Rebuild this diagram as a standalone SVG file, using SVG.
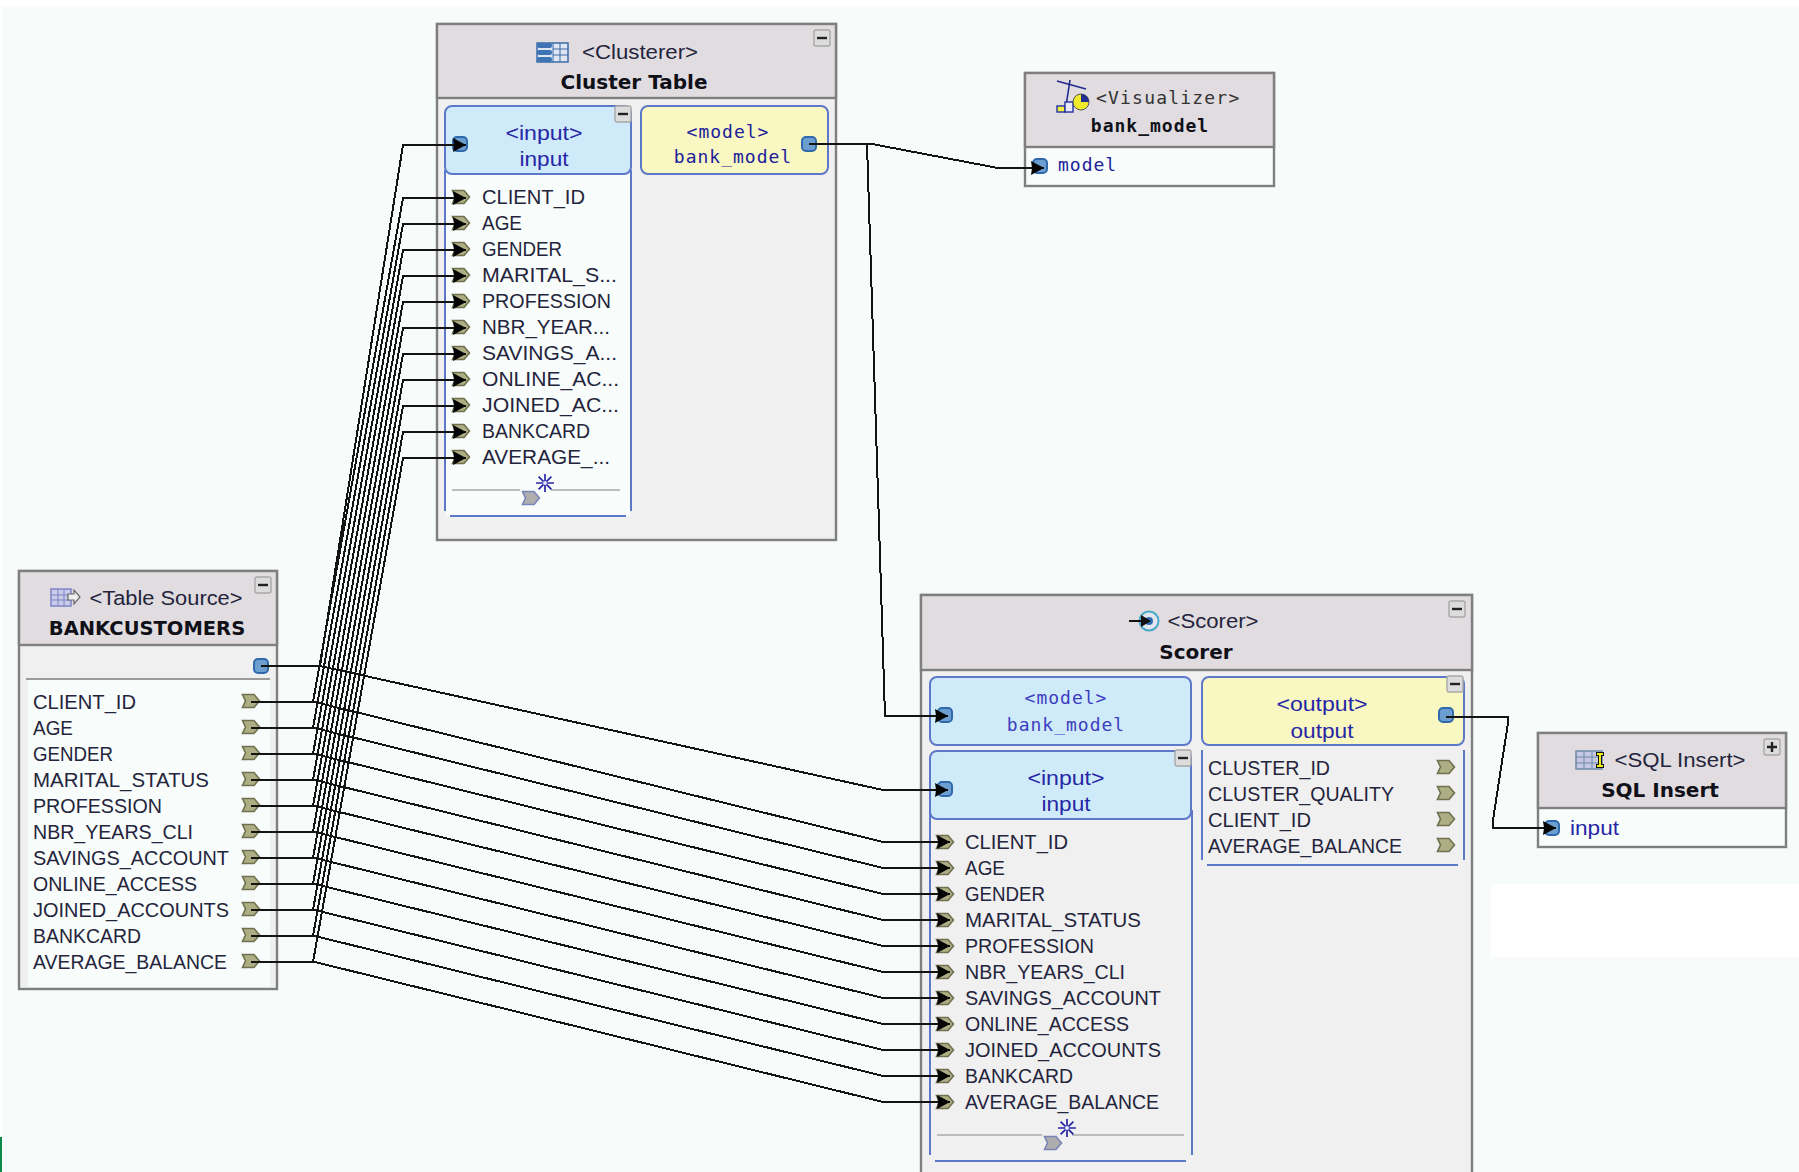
<svg xmlns="http://www.w3.org/2000/svg" xmlns:xlink="http://www.w3.org/1999/xlink" width="1799" height="1172" viewBox="0 0 1799 1172">
<style>
.frame{fill:#f0f0f0;stroke:#7f7f7f;stroke-width:2.4}
.head{fill:#e0dce0;stroke:#7f7f7f;stroke-width:2.4}
.pale{fill:#f8fdfb;stroke:none}
.inbox{fill:#cfeaf9;stroke:#5d78c8;stroke-width:2}
.outbox{fill:#f9f8c2;stroke:#5d78c8;stroke-width:2}
.edge{stroke:#5d78c8;stroke-width:2;fill:none}
.sep{stroke:#bdbdbd;stroke-width:2}
.t{font-family:"Liberation Sans",Arial,sans-serif;font-size:20px;fill:#24243c}
.c{text-anchor:middle}
.b{font-family:"DejaVu Sans",sans-serif;font-weight:700;font-size:20px;fill:#101018;text-anchor:middle}
.blue{fill:#2626a6}
.m{font-family:"DejaVu Sans Mono",monospace;font-size:18px;letter-spacing:1px;fill:#20209a}
.lm{fill:#3d3dc0}
.wire{fill:none;stroke:#141414;stroke-width:2;stroke-linejoin:miter;shape-rendering:crispEdges}
.arrow{marker-end:url(#head)}
.btn{fill:#dcdcdc;stroke:#a8a8a8;stroke-width:1.4}
.sym{stroke:#222;stroke-width:2.4}
</style>
<defs>
<marker id="head" markerUnits="userSpaceOnUse" markerWidth="15" markerHeight="16" refX="14" refY="8" orient="auto">
<path d="M1 1L14 8L1 15L2 8Z" fill="#050505"/>
</marker>
<g id="tag"><path d="M-8.5-6.5H3L8.5 0L3 6.5H-8.5L-5.5 0Z" fill="#aeae84" stroke="#70704f" stroke-width="1.6"/></g>
<g id="ghost"><path d="M-8.5-6.5H3L8.5 0L3 6.5H-8.5L-5.5 0Z" fill="#aeaeae" stroke="#7b86b8" stroke-width="1.6"/></g>
<g id="port"><rect x="-7" y="-7" width="14" height="14" rx="4" fill="#6c9fd0" stroke="#2f69ac" stroke-width="2"/></g>
<g id="minus"><rect class="btn" x="-8" y="-8" width="16" height="16" rx="2"/><path class="sym" d="M-5 0H5"/></g>
<g id="star"><path d="M-9 0H9M0-9V9M-6.400-6.400L6.400 6.400M-6.400 6.400L6.400-6.400" stroke="#2626a6" stroke-width="1.700"/><circle r="2" fill="#e8e8f8"/></g>
</defs>

<rect width="1799" height="1172" fill="#f7fcfa"/>
<rect width="1799" height="6" fill="#ffffff"/>
<rect width="2" height="1172" fill="#ffffff"/>
<rect x="0" y="1137" width="2" height="35" fill="#0c8a4c"/>
<rect x="1491" y="884" width="308" height="73" fill="#ffffff"/>

<g id="node-bankcustomers">
<rect class="frame" x="19" y="571" width="258" height="418"/>
<rect class="head" x="19" y="571" width="258" height="74"/>
<rect class="pale" x="28" y="680" width="242" height="307"/>
<path d="M26 679H270" stroke="#7f7f7f" stroke-width="1.600"/>
<use xlink:href="#minus" x="263" y="585"/>
<g id="icon-source"><rect x="51" y="589" width="20" height="17" fill="#c9cbe8" stroke="#7d83c8" stroke-width="1.500"/><path d="M51 595H71M51 600H71M58 589V606M64 589V606" stroke="#7d83c8"/><path d="M68 594H74V590L80 597L74 604V600H68Z" fill="#eef0f0" stroke="#666" stroke-width="1.200"/></g>
<text class="t c" x="166" y="605" textLength="153" lengthAdjust="spacingAndGlyphs">&lt;Table Source&gt;</text>
<text class="b" x="147" y="635" style="font-size:19.500px">BANKCUSTOMERS</text>
<use xlink:href="#port" x="261" y="666"/>
<g id="source-columns">
<text class="t" x="33" y="709" textLength="103" lengthAdjust="spacingAndGlyphs">CLIENT_ID</text><use xlink:href="#tag" x="251" y="701"/>
<text class="t" x="33" y="735" textLength="40" lengthAdjust="spacingAndGlyphs">AGE</text><use xlink:href="#tag" x="251" y="727"/>
<text class="t" x="33" y="761" textLength="80" lengthAdjust="spacingAndGlyphs">GENDER</text><use xlink:href="#tag" x="251" y="753"/>
<text class="t" x="33" y="787" textLength="176" lengthAdjust="spacingAndGlyphs">MARITAL_STATUS</text><use xlink:href="#tag" x="251" y="779"/>
<text class="t" x="33" y="813" textLength="129" lengthAdjust="spacingAndGlyphs">PROFESSION</text><use xlink:href="#tag" x="251" y="805"/>
<text class="t" x="33" y="839" textLength="160" lengthAdjust="spacingAndGlyphs">NBR_YEARS_CLI</text><use xlink:href="#tag" x="251" y="831"/>
<text class="t" x="33" y="865" textLength="196" lengthAdjust="spacingAndGlyphs">SAVINGS_ACCOUNT</text><use xlink:href="#tag" x="251" y="857"/>
<text class="t" x="33" y="891" textLength="164" lengthAdjust="spacingAndGlyphs">ONLINE_ACCESS</text><use xlink:href="#tag" x="251" y="883"/>
<text class="t" x="33" y="917" textLength="196" lengthAdjust="spacingAndGlyphs">JOINED_ACCOUNTS</text><use xlink:href="#tag" x="251" y="909"/>
<text class="t" x="33" y="943" textLength="108" lengthAdjust="spacingAndGlyphs">BANKCARD</text><use xlink:href="#tag" x="251" y="935"/>
<text class="t" x="33" y="969" textLength="194" lengthAdjust="spacingAndGlyphs">AVERAGE_BALANCE</text><use xlink:href="#tag" x="251" y="961"/>
</g>
</g>

<g id="node-cluster-table">
<rect class="frame" x="437" y="24" width="399" height="516"/>
<rect class="head" x="437" y="24" width="399" height="74"/>
<use xlink:href="#minus" x="822" y="38"/>
<g id="icon-clusterer"><rect x="537" y="43" width="31" height="19" fill="#dfe6f2" stroke="#3a6ba8" stroke-width="1.500"/><path d="M553 43V62M560 43V62M553 49H568M553 55H568" stroke="#3a6ba8"/><rect x="537" y="43" width="15" height="5" rx="2" fill="#3f74b4"/><rect x="537" y="50" width="15" height="5" rx="2" fill="#3f74b4"/><rect x="537" y="57" width="15" height="5" rx="2" fill="#3f74b4"/></g>
<text class="t c" x="640" y="59" textLength="116" lengthAdjust="spacingAndGlyphs">&lt;Clusterer&gt;</text>
<text class="b" x="634" y="89">Cluster Table</text>
<g id="cluster-input">
<rect class="pale" x="446" y="170" width="184" height="346"/>
<path class="edge" d="M445 170V511M631 170V511M450 516H626"/>
<rect class="inbox" x="445" y="106" width="186" height="68" rx="7"/>
<use xlink:href="#minus" x="623" y="114"/>
<use xlink:href="#port" x="460" y="144"/>
<text class="t c blue" x="544" y="140" textLength="77" lengthAdjust="spacingAndGlyphs">&lt;input&gt;</text>
<text class="t c blue" x="544" y="166" textLength="49" lengthAdjust="spacingAndGlyphs">input</text>
<text class="t" x="482" y="204" textLength="103" lengthAdjust="spacingAndGlyphs">CLIENT_ID</text><use xlink:href="#tag" x="461" y="197"/>
<text class="t" x="482" y="230" textLength="40" lengthAdjust="spacingAndGlyphs">AGE</text><use xlink:href="#tag" x="461" y="223"/>
<text class="t" x="482" y="256" textLength="80" lengthAdjust="spacingAndGlyphs">GENDER</text><use xlink:href="#tag" x="461" y="249"/>
<text class="t" x="482" y="282" textLength="135" lengthAdjust="spacingAndGlyphs">MARITAL_S...</text><use xlink:href="#tag" x="461" y="275"/>
<text class="t" x="482" y="308" textLength="129" lengthAdjust="spacingAndGlyphs">PROFESSION</text><use xlink:href="#tag" x="461" y="301"/>
<text class="t" x="482" y="334" textLength="128" lengthAdjust="spacingAndGlyphs">NBR_YEAR...</text><use xlink:href="#tag" x="461" y="327"/>
<text class="t" x="482" y="360" textLength="135" lengthAdjust="spacingAndGlyphs">SAVINGS_A...</text><use xlink:href="#tag" x="461" y="353"/>
<text class="t" x="482" y="386" textLength="137" lengthAdjust="spacingAndGlyphs">ONLINE_AC...</text><use xlink:href="#tag" x="461" y="379"/>
<text class="t" x="482" y="412" textLength="137" lengthAdjust="spacingAndGlyphs">JOINED_AC...</text><use xlink:href="#tag" x="461" y="405"/>
<text class="t" x="482" y="438" textLength="108" lengthAdjust="spacingAndGlyphs">BANKCARD</text><use xlink:href="#tag" x="461" y="431"/>
<text class="t" x="482" y="464" textLength="128" lengthAdjust="spacingAndGlyphs">AVERAGE_...</text><use xlink:href="#tag" x="461" y="457"/>
<path class="sep" d="M452 490H520M551 490H620"/>
<use xlink:href="#ghost" x="531" y="498"/>
<use xlink:href="#star" x="545" y="483"/>
</g>
<g id="cluster-model">
<rect class="outbox" x="641" y="106" width="187" height="68" rx="7"/>
<use xlink:href="#port" x="809" y="144"/>
<text class="m c" x="728" y="138">&lt;model&gt;</text>
<text class="m c" x="733" y="163">bank_model</text>
</g>
</g>

<g id="node-visualizer">
<rect class="frame" x="1025" y="73" width="249" height="113" style="fill:#f8fdfb"/>
<rect class="head" x="1025" y="73" width="249" height="74"/>
<g id="icon-visualizer"><path d="M1057 81L1086 89M1070 80L1066 106" stroke="#222a90" stroke-width="1.600"/><rect x="1057" y="106" width="8" height="6" fill="#f3ee40" stroke="#2230a0" stroke-width="1.400"/><rect x="1065" y="102" width="8" height="10" fill="#e8e8f8" stroke="#2230a0" stroke-width="1.400"/><circle cx="1081" cy="102" r="8" fill="#f0ea2c" stroke="#555" stroke-width="1"/><path d="M1081 102V94A8 8 0 0 1 1089 102Z" fill="#20308c"/></g>
<text class="m" x="1096" y="104" style="fill:#333;font-size:18px;letter-spacing:1.200px">&lt;Visualizer&gt;</text>
<text class="m c" x="1150" y="132" style="fill:#101018;font-weight:700">bank_model</text>
<use xlink:href="#port" x="1040" y="166"/>
<text class="m" x="1058" y="171">model</text>
</g>

<g id="node-scorer">
<path class="frame" d="M921 1174V595H1472V1174"/>
<rect class="head" x="921" y="595" width="551" height="75"/>
<use xlink:href="#minus" x="1457" y="609"/>
<g id="icon-scorer"><circle cx="1149" cy="621" r="9.500" fill="#e2e6ee" stroke="#49a8c8" stroke-width="2"/><circle cx="1149" cy="621" r="4" fill="#2f6fb0"/><path d="M1129 621H1146" stroke="#111" stroke-width="2"/><path d="M1141 615L1151 621L1141 627Z" fill="#111"/></g>
<text class="t c" x="1213" y="628" textLength="91" lengthAdjust="spacingAndGlyphs">&lt;Scorer&gt;</text>
<text class="b" x="1196" y="659">Scorer</text>
<g id="scorer-model">
<rect class="inbox" x="930" y="677" width="261" height="68" rx="7"/>
<use xlink:href="#port" x="945" y="715"/>
<text class="m c lm" x="1066" y="704">&lt;model&gt;</text>
<text class="m c lm" x="1066" y="731">bank_model</text>
</g>
<g id="scorer-input">
<path class="edge" d="M930 810V1155M1192 810V1155M935 1161H1186"/>
<rect class="inbox" x="930" y="751" width="261" height="68" rx="7"/>
<use xlink:href="#minus" x="1183" y="758"/>
<use xlink:href="#port" x="945" y="789"/>
<text class="t c blue" x="1066" y="785" textLength="77" lengthAdjust="spacingAndGlyphs">&lt;input&gt;</text>
<text class="t c blue" x="1066" y="811" textLength="49" lengthAdjust="spacingAndGlyphs">input</text>
<text class="t" x="965" y="849" textLength="103" lengthAdjust="spacingAndGlyphs">CLIENT_ID</text><use xlink:href="#tag" x="945" y="842"/>
<text class="t" x="965" y="875" textLength="40" lengthAdjust="spacingAndGlyphs">AGE</text><use xlink:href="#tag" x="945" y="868"/>
<text class="t" x="965" y="901" textLength="80" lengthAdjust="spacingAndGlyphs">GENDER</text><use xlink:href="#tag" x="945" y="894"/>
<text class="t" x="965" y="927" textLength="176" lengthAdjust="spacingAndGlyphs">MARITAL_STATUS</text><use xlink:href="#tag" x="945" y="920"/>
<text class="t" x="965" y="953" textLength="129" lengthAdjust="spacingAndGlyphs">PROFESSION</text><use xlink:href="#tag" x="945" y="946"/>
<text class="t" x="965" y="979" textLength="160" lengthAdjust="spacingAndGlyphs">NBR_YEARS_CLI</text><use xlink:href="#tag" x="945" y="972"/>
<text class="t" x="965" y="1005" textLength="196" lengthAdjust="spacingAndGlyphs">SAVINGS_ACCOUNT</text><use xlink:href="#tag" x="945" y="998"/>
<text class="t" x="965" y="1031" textLength="164" lengthAdjust="spacingAndGlyphs">ONLINE_ACCESS</text><use xlink:href="#tag" x="945" y="1024"/>
<text class="t" x="965" y="1057" textLength="196" lengthAdjust="spacingAndGlyphs">JOINED_ACCOUNTS</text><use xlink:href="#tag" x="945" y="1050"/>
<text class="t" x="965" y="1083" textLength="108" lengthAdjust="spacingAndGlyphs">BANKCARD</text><use xlink:href="#tag" x="945" y="1076"/>
<text class="t" x="965" y="1109" textLength="194" lengthAdjust="spacingAndGlyphs">AVERAGE_BALANCE</text><use xlink:href="#tag" x="945" y="1102"/>
<path class="sep" d="M937 1135H1042M1072 1135H1184"/>
<use xlink:href="#ghost" x="1053" y="1143"/>
<use xlink:href="#star" x="1067" y="1128"/>
</g>
<g id="scorer-output">
<path class="edge" d="M1202 750V860M1464 750V860M1207 865H1458"/>
<rect class="outbox" x="1202" y="677" width="262" height="68" rx="7"/>
<use xlink:href="#minus" x="1455" y="684"/>
<use xlink:href="#port" x="1446" y="715"/>
<text class="t c blue" x="1322" y="711" textLength="91" lengthAdjust="spacingAndGlyphs">&lt;output&gt;</text>
<text class="t c blue" x="1322" y="738" textLength="63" lengthAdjust="spacingAndGlyphs">output</text>
<text class="t" x="1208" y="775" textLength="122" lengthAdjust="spacingAndGlyphs">CLUSTER_ID</text><use xlink:href="#tag" x="1446" y="767"/>
<text class="t" x="1208" y="801" textLength="186" lengthAdjust="spacingAndGlyphs">CLUSTER_QUALITY</text><use xlink:href="#tag" x="1446" y="793"/>
<text class="t" x="1208" y="827" textLength="103" lengthAdjust="spacingAndGlyphs">CLIENT_ID</text><use xlink:href="#tag" x="1446" y="819"/>
<text class="t" x="1208" y="853" textLength="194" lengthAdjust="spacingAndGlyphs">AVERAGE_BALANCE</text><use xlink:href="#tag" x="1446" y="845"/>
</g>
</g>

<g id="node-sql-insert">
<rect class="frame" x="1538" y="733" width="248" height="114" style="fill:#f8fdfb"/>
<rect class="head" x="1538" y="733" width="248" height="75"/>
<g id="sql-plus"><rect class="btn" x="1764" y="739" width="16" height="16" rx="2"/><path class="sym" d="M1767 747H1777M1772 742V752"/></g>
<g id="icon-sql"><rect x="1576" y="751" width="26" height="18" fill="#c4c8e4" stroke="#6d88a8" stroke-width="1.500"/><path d="M1576 757H1602M1576 763H1602M1584 751V769M1592 751V769" stroke="#6d88a8"/><path d="M1596 754H1604M1600 754V766M1596 766H1604" stroke="#111" stroke-width="4"/><path d="M1597 754H1603M1600 754V766M1597 766H1603" stroke="#f3ee20" stroke-width="2"/></g>
<text class="t c" x="1680" y="767" textLength="131" lengthAdjust="spacingAndGlyphs">&lt;SQL Insert&gt;</text>
<text class="b" x="1660" y="797">SQL Insert</text>
<use xlink:href="#port" x="1552" y="828"/>
<text class="t blue" x="1570" y="835" textLength="49" lengthAdjust="spacingAndGlyphs">input</text>
</g>

<g id="connectors">
<polyline class="wire arrow" points="261,666 320,666 403,145 466,145"/>
<polyline class="wire arrow" points="251,702 313,702 403,198 466,198"/>
<polyline class="wire arrow" points="251,728 313,728 403,224 466,224"/>
<polyline class="wire arrow" points="251,754 313,754 403,250 466,250"/>
<polyline class="wire arrow" points="251,780 313,780 403,276 466,276"/>
<polyline class="wire arrow" points="251,806 313,806 403,302 466,302"/>
<polyline class="wire arrow" points="251,832 313,832 403,328 466,328"/>
<polyline class="wire arrow" points="251,858 313,858 403,354 466,354"/>
<polyline class="wire arrow" points="251,884 313,884 403,380 466,380"/>
<polyline class="wire arrow" points="251,910 313,910 403,406 466,406"/>
<polyline class="wire arrow" points="251,936 313,936 403,432 466,432"/>
<polyline class="wire arrow" points="251,962 313,962 403,458 466,458"/>
<polyline class="wire arrow" points="261,666 320,666 883,790 948,790"/>
<polyline class="wire arrow" points="251,702 315,702 883,842 950,842"/>
<polyline class="wire arrow" points="251,728 315,728 883,868 950,868"/>
<polyline class="wire arrow" points="251,754 315,754 883,894 950,894"/>
<polyline class="wire arrow" points="251,780 315,780 883,920 950,920"/>
<polyline class="wire arrow" points="251,806 315,806 883,946 950,946"/>
<polyline class="wire arrow" points="251,832 315,832 883,972 950,972"/>
<polyline class="wire arrow" points="251,858 315,858 883,998 950,998"/>
<polyline class="wire arrow" points="251,884 315,884 883,1024 950,1024"/>
<polyline class="wire arrow" points="251,910 315,910 883,1050 950,1050"/>
<polyline class="wire arrow" points="251,936 315,936 883,1076 950,1076"/>
<polyline class="wire arrow" points="251,962 315,962 883,1102 950,1102"/>
<polyline class="wire arrow" points="809,144 872,144 998,168 1044,168"/>
<polyline class="wire arrow" points="809,144 867,144 885,716 948,716"/>
<polyline class="wire arrow" points="1446,717 1508,717 1508,723 1493,820 1493,828 1556,828"/>
</g>
</svg>
